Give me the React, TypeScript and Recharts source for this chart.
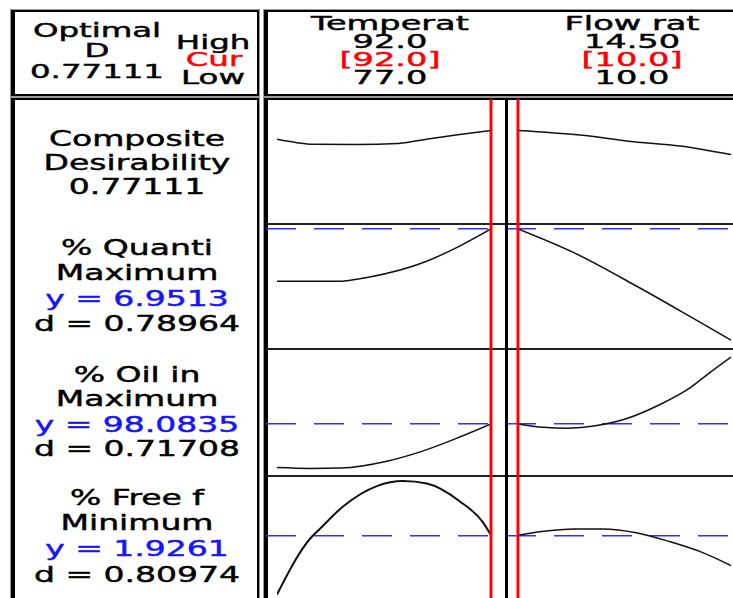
import React from 'react';
import { LineChart, Line, XAxis, YAxis, ReferenceLine } from 'recharts';

// factor header
const factorNames = ['Temperat', 'Flow rat'];
const factorHighText = ['92.0', '14.50'];
const factorCurText = ['[92.0]', '[10.0]'];
const factorLowText = ['77.0', '10.0'];
const factorLow = [77, 10];
const factorHigh = [92, 14.5];
const factorCur = [92, 10];

// responses
const compositeD = '0.77111';
const responseNames = ['% Quanti', '% Oil in', '% Free f'];
const responseGoals = ['Maximum', 'Maximum', 'Minimum'];
const responseY = [6.9513, 98.0835, 1.9261];
const responseYText = ['6.9513', '98.0835', '1.9261'];
const responseD = ['0.78964', '0.71708', '0.80974'];

// curves (x = factor setting, y = predicted response)
const compTempX = [77, 78.4, 79.5, 82.6, 85.5, 87.7, 89.8, 92];
const compTempY = [0.698, 0.67, 0.657, 0.655, 0.664, 0.702, 0.737, 0.771];
const compFlowX = [10, 11.31, 12.44, 13.42, 14.5];
const compFlowY = [0.771, 0.733, 0.678, 0.643, 0.572];

const quantTempX = [77, 81.2, 83.5, 87.4, 89.8, 92];
const quantTempY = [5.88, 5.88, 5.97, 6.28, 6.6, 6.95];
const quantFlowX = [10, 11.17, 12.51, 13.64, 14.5];
const quantFlowY = [6.95, 6.47, 5.78, 5.16, 4.68];

const oilTempX = [77, 79.3, 81.5, 84.7, 87.3, 89.8, 92];
const oilTempY = [97.05, 97.03, 97.04, 97.2, 97.45, 97.77, 98.08];
const oilFlowX = [10, 10.54, 11.03, 11.52, 12.3, 13.0, 13.64, 14.06, 14.5];
const oilFlowY = [98.08, 98.0, 97.98, 98.02, 98.21, 98.54, 98.94, 99.3, 99.66];

const freeTempX = [77, 79.3, 80.0, 81.65, 84.0, 85.85, 87.5, 89.8, 91.45, 92];
const freeTempY = [1.46, 1.9, 1.98, 2.16, 2.32, 2.36, 2.34, 2.2, 2.03, 1.93];
const freeFlowX = [10, 10.5, 11.2, 11.8, 12.5, 13.2, 13.85, 14.5];
const freeFlowY = [1.93, 1.96, 1.98, 1.98, 1.95, 1.88, 1.8, 1.69];

const rowDomains: [number, number][] = [
  [0, 1.03],
  [4.5, 7.05],
  [96.85, 99.85],
  [1.4, 2.4],
];

const curves = [
  [[compTempX, compTempY], [compFlowX, compFlowY]],
  [[quantTempX, quantTempY], [quantFlowX, quantFlowY]],
  [[oilTempX, oilTempY], [oilFlowX, oilFlowY]],
  [[freeTempX, freeTempY], [freeFlowX, freeFlowY]],
];

const rowTops = [99, 224, 349, 476];
const rowHeights = [125, 125, 127, 126];
const colLefts = [266, 506];
const colPad = [
  { left: 11, right: 15 },
  { left: 12, right: 15 },
];

const BLUE = '#1414ff';
const RED = '#ff0000';

function Txt({ x, y, children, color = '#000', size = 22, sx = 1.5, lh = 22 }: any) {
  return (
    <div
      style={{
        position: 'absolute',
        left: x,
        top: y,
        transform: `translate(-50%, -50%) scaleX(${sx})`,
        color,
        fontSize: size,
        lineHeight: `${lh}px`,
        whiteSpace: 'nowrap',
        WebkitTextStroke: `0.45px ${color}`,
      }}
    >
      {children}
    </div>
  );
}

function Box({ left, top, width, height }: any) {
  return (
    <div
      style={{
        position: 'absolute',
        left,
        top,
        width,
        height,
        boxSizing: 'border-box',
        border: '2px solid #000',
        borderLeftWidth: 4,
        boxShadow: '0 0 0 1px #9a9a9a',
        background: '#fff',
      }}
    />
  );
}

function Cell({ row, col }: { row: number; col: number }) {
  const [xs, ys] = curves[row][col];
  const data = xs.map((x, i) => ({ x, y: ys[i] }));
  return (
    <div style={{ position: 'absolute', left: colLefts[col], top: rowTops[row] }}>
      <LineChart
        width={240}
        height={rowHeights[row]}
        data={data}
        margin={{ top: 0, right: 0, bottom: 0, left: 0 }}
      >
        <XAxis
          hide
          type="number"
          dataKey="x"
          domain={[factorLow[col], factorHigh[col]]}
          padding={colPad[col]}
          allowDataOverflow
        />
        <YAxis hide type="number" domain={rowDomains[row]} allowDataOverflow />
        {row > 0 && (
          <ReferenceLine
            y={responseY[row - 1]}
            stroke="#3030ff"
            strokeWidth={1.5}
            strokeDasharray="30 18"
          />
        )}
        <Line
          type="monotone"
          dataKey="y"
          stroke="#111"
          strokeWidth={row === 3 && col === 0 ? 2 : 1.5}
          dot={false}
          isAnimationActive={false}
        />
        <ReferenceLine x={factorCur[col]} stroke={RED} strokeWidth={3} />
      </LineChart>
    </div>
  );
}

export default function App() {
  const textRows = [
    [248, 273, 299, 324],
    [375, 399, 425, 449],
    [498, 523, 549, 575],
  ];
  const hx = [390, 632];
  return (
    <div
      style={{
        position: 'fixed',
        left: 0,
        top: 0,
        width: 733,
        height: 598,
        overflow: 'hidden',
        background: '#fff',
        fontFamily: '"DejaVu Sans", Verdana, sans-serif',
      }}
    >
      <Box left={11} top={10} width={248} height={86} />
      <Box left={264} top={10} width={500} height={86} />
      <Box left={11} top={98} width={248} height={520} />
      <Box left={264} top={98} width={500} height={520} />

      {/* header */}
      <Txt x={97} y={30} size={20} sx={1.62} lh={15}>Optimal</Txt>
      <Txt x={97} y={50} size={20} sx={1.62} lh={15}>D</Txt>
      <Txt x={97} y={71} size={20} sx={1.62} lh={15}>{compositeD}</Txt>
      <Txt x={213} y={42} size={20} sx={1.62} lh={15}>High</Txt>
      <Txt x={214} y={59} size={20} sx={1.62} lh={15} color={RED}>Cur</Txt>
      <Txt x={213} y={77} size={20} sx={1.62} lh={15}>Low</Txt>
      {factorNames.map((f, i) => (
        <React.Fragment key={f}>
          <Txt x={hx[i]} y={23} size={20} sx={1.68} lh={15}>{f}</Txt>
          <Txt x={hx[i]} y={41} size={20} sx={1.68} lh={15}>{factorHighText[i]}</Txt>
          <Txt x={hx[i]} y={59} size={20} sx={1.68} lh={15} color={RED}>{factorCurText[i]}</Txt>
          <Txt x={hx[i]} y={77} size={20} sx={1.68} lh={15}>{factorLowText[i]}</Txt>
        </React.Fragment>
      ))}

      {/* left panel */}
      <Txt x={137} y={139}>Composite</Txt>
      <Txt x={137} y={163}>Desirability</Txt>
      <Txt x={137} y={187}>{compositeD}</Txt>
      {responseNames.map((r, i) => (
        <React.Fragment key={r}>
          <Txt x={137} y={textRows[i][0]}>{r}</Txt>
          <Txt x={137} y={textRows[i][1]}>{responseGoals[i]}</Txt>
          <Txt x={137} y={textRows[i][2]} color={BLUE}>y = {responseYText[i]}</Txt>
          <Txt x={137} y={textRows[i][3]}>d = {responseD[i]}</Txt>
        </React.Fragment>
      ))}

      {/* row separators */}
      {[224, 349, 476].map((y) => (
        <div
          key={y}
          style={{ position: 'absolute', left: 266, top: y - 1, width: 480, height: 2, background: '#222' }}
        />
      ))}

      {[0, 1, 2, 3].map((r) => (
        <React.Fragment key={r}>
          <Cell row={r} col={0} />
          <Cell row={r} col={1} />
        </React.Fragment>
      ))}

      {/* column separator */}
      <div style={{ position: 'absolute', left: 505, top: 99, width: 3, height: 510, background: '#000' }} />
    </div>
  );
}
